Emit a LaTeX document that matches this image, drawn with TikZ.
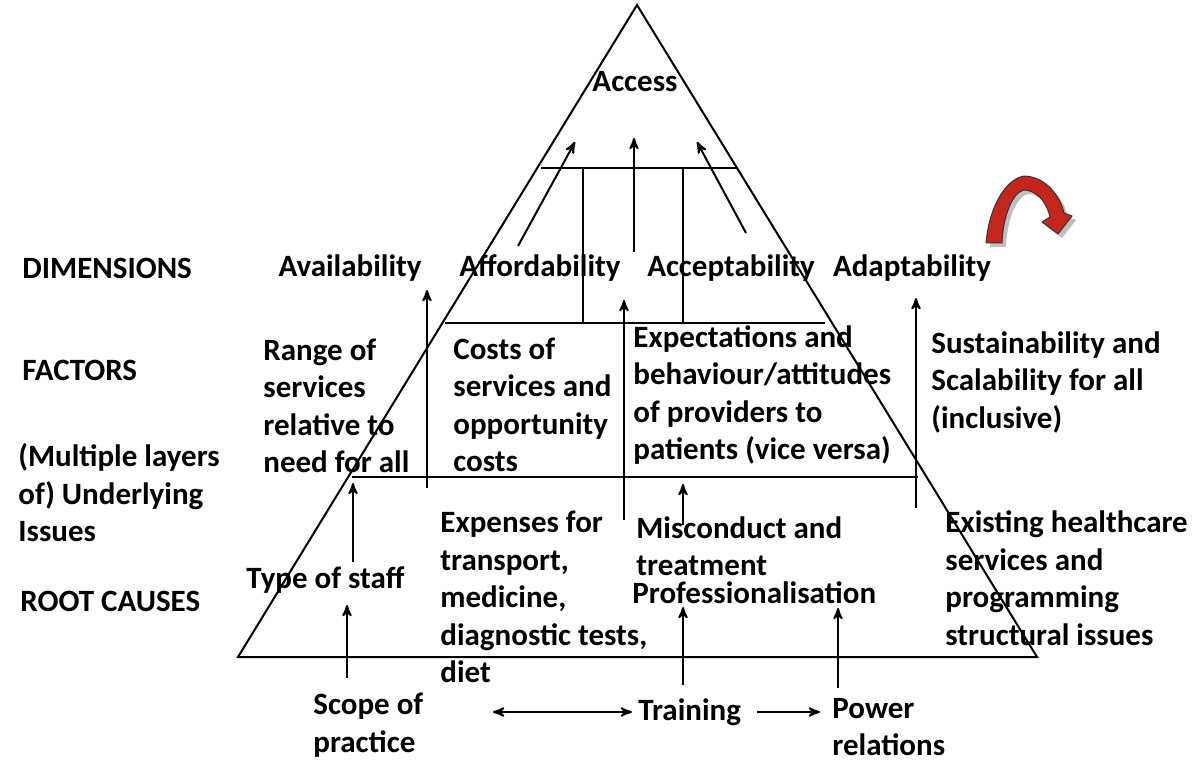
\documentclass[tikz,border=0pt]{standalone}
\usepackage{fontspec}
\setmainfont{Carlito}
\usepackage{tikz}
\usetikzlibrary{arrows}
\usetikzlibrary{positioning}
\newcommand\defaultarrowstyle{stealth'}
\tikzset{>=\defaultarrowstyle}
\newcommand\linewd{1pt}
\definecolor{turnred}{RGB}{196,38,28}
\tikzstyle{graph} = [line width=\linewd]
\tikzstyle{lbl}   = [inner sep=0pt, anchor=west, align=left, font=\bfseries\fontsize{15.5}{18.75}\selectfont]
\tikzstyle{dim}   = [lbl, anchor=center]
\tikzstyle{link}  = [graph, ->, shorten >=0pt]
\begin{document}
\begin{tikzpicture}[x=0.5pt, y=-0.5pt]
  \useasboundingbox (0,0) rectangle (1200,770);
  % pyramid and its layers
  \draw[graph, line join=miter] (637,5) -- (238,657) -- (1037,657) -- cycle;
  \draw[graph] (541,168) -- (737,168);
  \draw[graph] (583,168) -- (583,323);
  \draw[graph] (683,168) -- (683,323);
  \draw[graph] (445,323) -- (825,323);
  \draw[graph] (352,477) -- (918,477);
  % row labels
  \node[lbl] (dimlab) at (22,268) {DIMENSIONS};
  \node[lbl] (faclab) at (22,370) {FACTORS};
  \node[lbl] (undlab) at (18,493) {(Multiple layers\\of) Underlying\\Issues};
  \node[lbl] (rootlab) at (20,601) {ROOT CAUSES};
  % top and dimensions
  \node[dim] (access) at (635,82) {Access};
  \node[dim] (avail) at (350,268) {Availability};
  \node[dim] (afford) at (540,268) {Affordability};
  \node[dim] (accept) at (731,268) {Acceptability};
  \node[dim] (adapt) at (912,268) {Adaptability};
  % factors
  \node[lbl] (range) at (263,406) {Range of\\services\\relative to\\need for all};
  \node[lbl] (costs) at (453,405) {Costs of\\services and\\opportunity\\costs};
  \node[lbl] (expect) at (633,395) {Expectations and\\behaviour/attitudes\\of providers to\\patients (vice versa)};
  \node[lbl] (sustain) at (931,382) {Sustainability and\\Scalability for all\\(inclusive)};
  % root causes
  \node[lbl] (staff) at (246,580) {Type of staff};
  \node[lbl] (expenses) at (440,597) {Expenses for\\transport,\\medicine,\\diagnostic tests,\\diet};
  \node[lbl] (miscond) at (636,546) {Misconduct and\\treatment};
  \node[lbl] (prof) at (632,593) {Professionalisation};
  \node[lbl] (existing) at (945,578) {Existing healthcare\\services and\\programming\\structural issues};
  % below the pyramid
  \node[lbl] (scope) at (313,725) {Scope of\\practice};
  \node[lbl] (training) at (638,712) {Training};
  \node[lbl] (power) at (832,727) {Power\\relations};
  % arrow ends
  \foreach \n/\x/\y in {affT/575/142, affB/518/246, midT/634/138, midB/634/252,
      accT/697/142, accB/746/233, avaT/427/290, avaB/427/488, cosT/624/300, cosB/624/520,
      susT/916/298, susB/916/508, misT/683/484, misB/683/525, staT/353/483, staB/353/562,
      scoT/347/605, scoB/347/678, traT/683/607, traB/683/685, powT/838/608, powB/838/688,
      dblL/493/712, dblR/632/712, traR/757/712, powL/820/712}
    \coordinate (\n) at (\x,\y);
  \draw[link] (affB) -- (affT);
  \draw[link] (midB) -- (midT);
  \draw[link] (accB) -- (accT);
  \draw[link] (avaB) -- (avaT);
  \draw[link] (cosB) -- (cosT);
  \draw[link] (susB) -- (susT);
  \draw[link] (misB) -- (misT);
  \draw[link] (staB) -- (staT);
  \draw[link] (scoB) -- (scoT);
  \draw[link] (traB) -- (traT);
  \draw[link] (powB) -- (powT);
  \draw[link, <->] (dblL) -- (dblR);
  \draw[link] (traR) -- (powL);
  % red turning arrow
  \fill[black!25, xshift=2, yshift=-2]
    (986,243) .. controls (990,200) and (1010,177) .. (1025,176)
    .. controls (1045,177) and (1060,195) .. (1064,213) -- (1072,216) -- (1058,234)
    -- (1042,222) -- (1050,217) .. controls (1046,200) and (1035,190) .. (1024,190)
    .. controls (1013,192) and (1003,215) .. (1002,243) -- cycle;
  \draw[fill=turnred, draw=black!80, line width=0.5pt, line join=round]
    (986,243) .. controls (990,200) and (1010,177) .. (1025,176)
    .. controls (1045,177) and (1060,195) .. (1064,213) -- (1072,216) -- (1058,234)
    -- (1042,222) -- (1050,217) .. controls (1046,200) and (1035,190) .. (1024,190)
    .. controls (1013,192) and (1003,215) .. (1002,243) -- cycle;
\end{tikzpicture}
\end{document}
